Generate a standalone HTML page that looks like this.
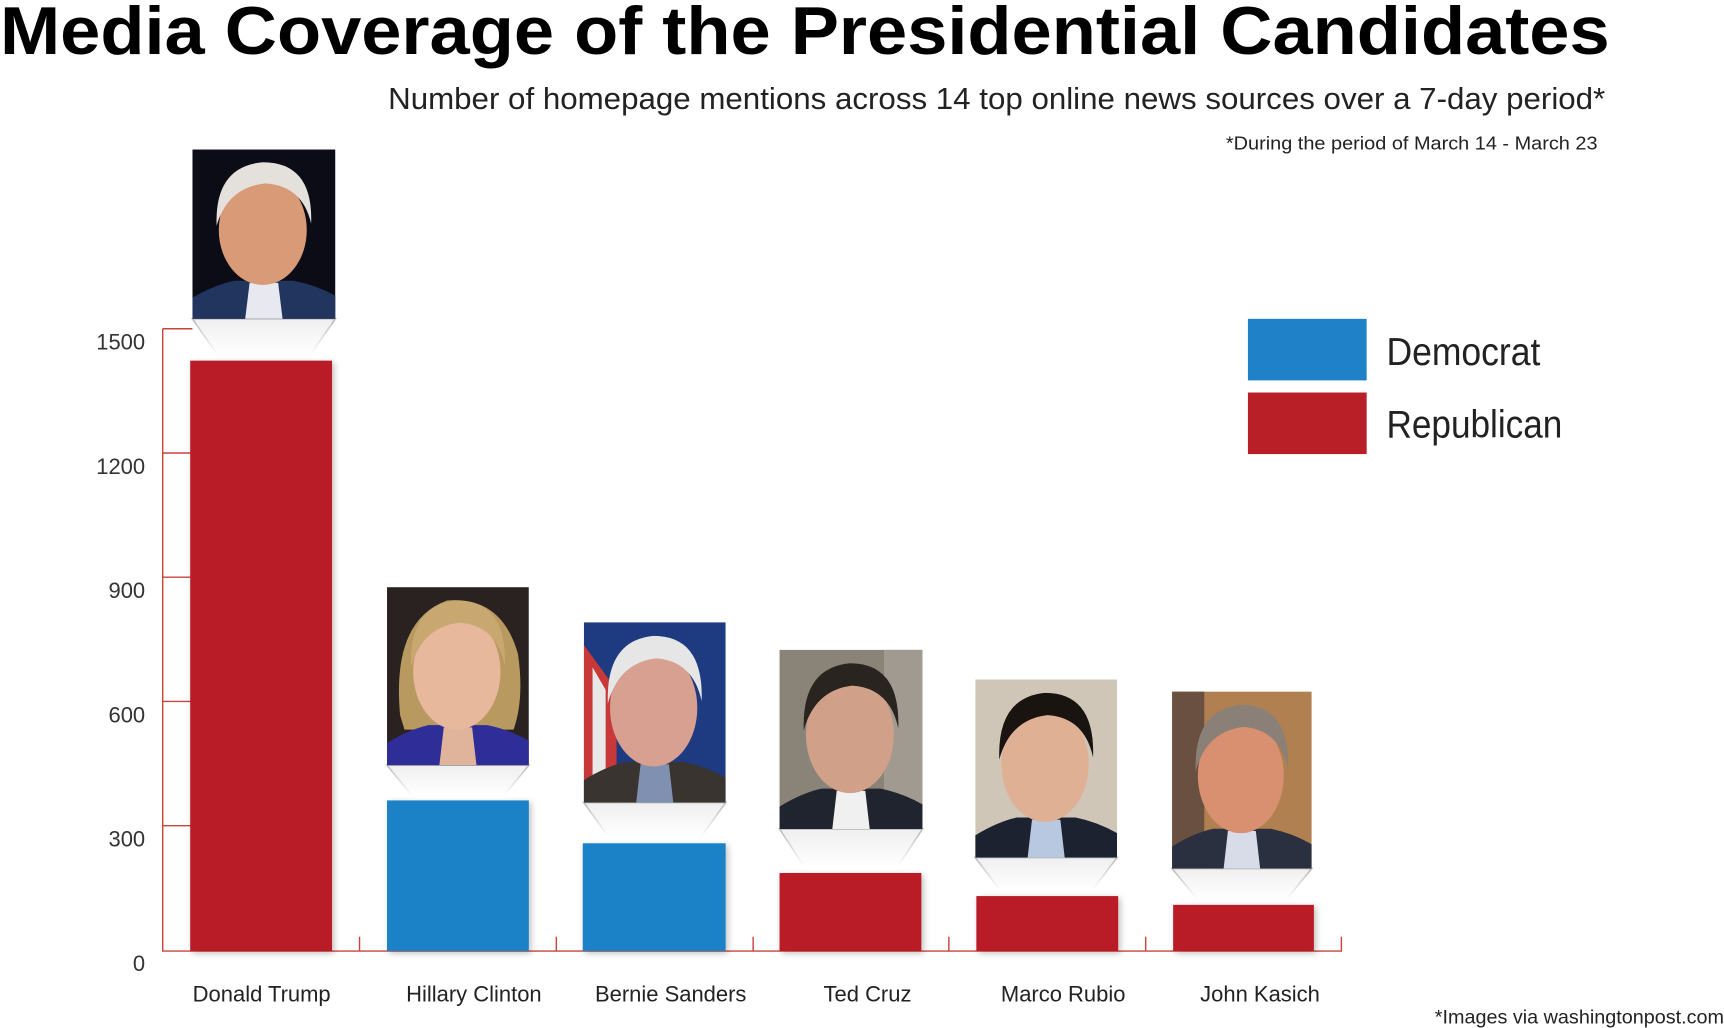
<!DOCTYPE html>
<html><head><meta charset="utf-8"><style>html,body{margin:0;padding:0;background:#fff}svg{display:block}</style></head>
<body>
<svg width="1724" height="1028" viewBox="0 0 1568 935" preserveAspectRatio="none" xmlns="http://www.w3.org/2000/svg" font-family="Liberation Sans, Arial, sans-serif">
<defs>
<linearGradient id="cg" x1="0" y1="0" x2="0" y2="1"><stop offset="0" stop-color="#efefef"/><stop offset="1" stop-color="#fff"/></linearGradient>
<linearGradient id="cs" x1="0" y1="0" x2="0" y2="1"><stop offset="0" stop-color="#bbb"/><stop offset="1" stop-color="#fff"/></linearGradient>
<filter id="sh" x="-10%" y="-5%" width="125%" height="115%"><feDropShadow dx="2" dy="2" stdDeviation="3" flood-color="#000" flood-opacity="0.25"/></filter>
<g id="p">
 <path d="M0 160 L0 140 Q20 128 38 124 L92 124 Q112 128 130 138 L130 160Z" fill="var(--suit)"/>
 <path d="M48 160 L52 126 L78 126 L82 160Z" fill="var(--shirt)"/>
 <ellipse cx="64" cy="76" rx="40" ry="52" fill="var(--skin)"/>
 <path d="M22 72 Q20 16 64 12 Q110 12 108 70 Q100 34 66 32 Q32 36 22 72Z" fill="var(--hair)"/>
</g>
</defs>

<text x="0" y="49" font-size="62" font-weight="bold" fill="#000" textLength="1464" lengthAdjust="spacingAndGlyphs">Media Coverage of the Presidential Candidates</text>
<text x="353" y="99" font-size="28" fill="#222" textLength="1107" lengthAdjust="spacingAndGlyphs">Number of homepage mentions across 14 top online news sources over a 7-day period*</text>
<text x="1115" y="136" font-size="17" fill="#222" textLength="338" lengthAdjust="spacingAndGlyphs">*During the period of March 14 - March 23</text>

<g stroke="#c8453c" stroke-width="1.3" fill="none">
 <path d="M148 299 V865 H1220 V852"/>
 <path d="M148 299H175M148 412H175M148 525H175M148 638H175M148 751H175"/>
 <path d="M327 865V852M506 865V852M685 865V852M863 865V852M1042 865V852"/>
</g>
<g font-size="20" fill="#333" text-anchor="end">
 <text x="132" y="318">1500</text><text x="132" y="431">1200</text><text x="132" y="544">900</text>
 <text x="132" y="657">600</text><text x="132" y="770">300</text><text x="132" y="883">0</text>
</g>

<g fill="url(#cg)" stroke="url(#cs)" stroke-width="1.5">
 <path d="M175 290 L305 290 L282 323 L198 323Z"/>
 <path d="M352 696 L481 696 L458 724 L375 724Z"/>
 <path d="M531 730 L660 730 L637 762 L554 762Z"/>
 <path d="M709 754 L839 754 L816 789 L732 789Z"/>
 <path d="M887 780 L1016 780 L993 810 L910 810Z"/>
 <path d="M1066 790 L1193 790 L1170 818 L1089 818Z"/>
</g>

<g filter="url(#sh)">
 <rect x="173" y="328" width="129" height="537" fill="#b91f26"/>
 <rect x="352" y="728" width="129" height="137" fill="#1f82c8"/>
 <rect x="530" y="767" width="130" height="98" fill="#1f82c8"/>
 <rect x="709" y="794" width="129" height="71" fill="#b91f26"/>
 <rect x="888" y="815" width="129" height="50" fill="#b91f26"/>
 <rect x="1067" y="823" width="128" height="42" fill="#b91f26"/>
</g>

<g>
 <svg x="175" y="136" width="130" height="154" viewBox="0 0 130 160" preserveAspectRatio="none"><rect width="130" height="160" fill="#0c0c16"/><use href="#p" style="--suit:#22355e;--shirt:#e8e8f0;--skin:#d99a78;--hair:#e4e0dc"/></svg>
 <svg x="352" y="534" width="129" height="162" viewBox="0 0 130 160" preserveAspectRatio="none"><rect width="130" height="160" fill="#2a2220"/><path d="M12 115 Q4 30 55 12 Q105 8 120 60 Q126 100 116 128 L16 128Z" fill="#b89a60"/><use href="#p" style="--suit:#2f2d98;--shirt:#e0b49a;--skin:#e8b89c;--hair:#c8a870"/></svg>
 <svg x="531" y="566" width="129" height="164" viewBox="0 0 130 160" preserveAspectRatio="none"><rect width="130" height="160" fill="#1e3a80"/><path d="M0 20 L30 60 L30 160 L0 160Z" fill="#c83838"/><path d="M8 40 L20 60 L20 160 L8 160Z" fill="#e8e8e8"/><use href="#p" style="--suit:#3a3430;--shirt:#8090b0;--skin:#d8a090;--hair:#e6e6e6"/></svg>
 <svg x="709" y="591" width="130" height="163" viewBox="0 0 130 160" preserveAspectRatio="none"><rect width="130" height="160" fill="#8a8478"/><rect x="95" width="35" height="160" fill="#a09a90"/><use href="#p" style="--suit:#20242e;--shirt:#f0f0f0;--skin:#d0a088;--hair:#2a2420"/></svg>
 <svg x="887" y="618" width="129" height="162" viewBox="0 0 130 160" preserveAspectRatio="none"><rect width="130" height="160" fill="#cfc6b8"/><use href="#p" style="--suit:#1c2230;--shirt:#b8c8e0;--skin:#e0b094;--hair:#1a1410"/></svg>
 <svg x="1066" y="629" width="127" height="161" viewBox="0 0 130 160" preserveAspectRatio="none"><rect width="130" height="160" fill="#b08050"/><rect width="30" height="160" fill="#6a5040"/><use href="#p" style="--suit:#2a3040;--shirt:#d8dce8;--skin:#d89070;--hair:#8a8078"/></svg>
</g>

<g font-size="20" fill="#222" text-anchor="middle">
 <text x="238" y="911">Donald Trump</text>
 <text x="431" y="911">Hillary Clinton</text>
 <text x="610" y="911">Bernie Sanders</text>
 <text x="789" y="911">Ted Cruz</text>
 <text x="967" y="911">Marco Rubio</text>
 <text x="1146" y="911">John Kasich</text>
</g>

<rect x="1135" y="290" width="108" height="56" fill="#1f82c8"/>
<rect x="1135" y="357" width="108" height="56" fill="#b91f26"/>
<text x="1261" y="332" font-size="35" fill="#222" textLength="140" lengthAdjust="spacingAndGlyphs">Democrat</text>
<text x="1261" y="398" font-size="35" fill="#222" textLength="160" lengthAdjust="spacingAndGlyphs">Republican</text>

<text x="1568" y="931" font-size="18" fill="#222" text-anchor="end">*Images via washingtonpost.com</text>
</svg>
</body></html>
